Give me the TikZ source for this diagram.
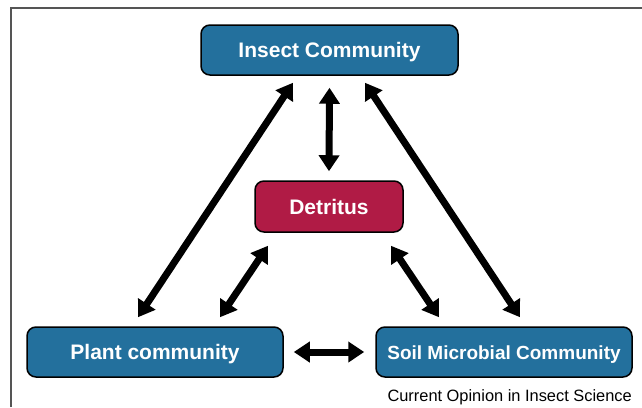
\documentclass[tikz,border=0pt]{standalone}
\usepackage{fontspec}
\setmainfont{Liberation Sans}
\usetikzlibrary{arrows.meta}
\definecolor{boxblue}{HTML}{23709D}
\definecolor{detred}{HTML}{B01B45}
\definecolor{framegray}{HTML}{555555}
\tikzset{
  box/.style={draw=black, line width=1.5pt, rounded corners=9pt, text=white,
    font=\bfseries\fontsize{21}{24}\selectfont, inner sep=0pt, align=center},
  bluebox/.style={box, fill=boxblue},
  redbox/.style={box, fill=detred},
  dbl/.style={line width=7pt, {Triangle[length=16pt,width=20pt]}-{Triangle[length=16pt,width=20pt]}}
}
\begin{document}
\begin{tikzpicture}[x=1pt,y=-1pt]
\useasboundingbox (0,0) rectangle (642,407);
\draw[framegray, line width=1.5pt] (11,407) -- (11,8) -- (642,8);
\node[bluebox, minimum width=257pt, minimum height=50pt, text depth=0pt, text height=15pt] (ins) at (329.5,50) {Insect Community};
\node[redbox, minimum width=148pt, minimum height=51pt, text depth=0pt, text height=15pt] (det) at (329,206.5) {Detritus};
\node[bluebox, minimum width=256pt, minimum height=50pt, text depth=0pt, text height=15pt] (plant) at (155,352) {Plant community};
\node[bluebox, minimum width=256pt, minimum height=50pt, text depth=0pt, text height=14pt, font=\bfseries\fontsize{19}{22}\selectfont] (soil) at (504,352) {Soil Microbial Community};
\node[anchor=east, inner sep=0pt, font=\fontsize{16.4}{19}\selectfont] (cap) at (632,397) {Current Opinion in Insect Science};
\draw[dbl] ([xshift=-17pt,yshift=9pt]plant.north) -- ([xshift=-36.5pt,yshift=-7pt]ins.south);
\draw[dbl] ([yshift=-12pt]ins.south) -- ([yshift=9pt]det.north);
\draw[dbl] ([xshift=35.5pt,yshift=-7pt]ins.south) -- ([xshift=16pt,yshift=9pt]soil.north);
\draw[dbl] ([xshift=65pt,yshift=9pt]plant.north) -- ([xshift=-61pt,yshift=-13pt]det.south);
\draw[dbl] ([xshift=62pt,yshift=-13pt]det.south) -- ([xshift=-65pt,yshift=9pt]soil.north);
\draw[dbl] ([xshift=10pt]plant.east) -- ([xshift=-11pt]soil.west);
\end{tikzpicture}
\end{document}
